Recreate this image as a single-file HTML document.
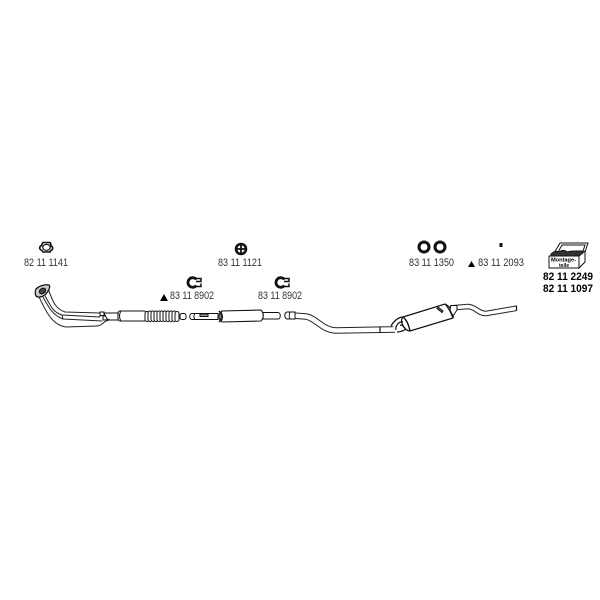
<!DOCTYPE html>
<html>
<head>
<meta charset="utf-8">
<style>
html,body{margin:0;padding:0;background:#fff}
svg{display:block}
text{font-family:"Liberation Sans",sans-serif;font-size:11px;fill:#333}
.b{font-weight:bold;font-size:11px;fill:#000}
</style>
</head>
<body>
<svg width="600" height="600" viewBox="0 0 600 600" xmlns="http://www.w3.org/2000/svg">
<rect width="600" height="600" fill="#fff"/>
<text x="24" y="266" textLength="44" lengthAdjust="spacingAndGlyphs">82 11 1141</text>
<text x="218" y="266" textLength="44" lengthAdjust="spacingAndGlyphs">83 11 1121</text>
<text x="170" y="299" textLength="44" lengthAdjust="spacingAndGlyphs">83 11 8902</text>
<text x="258" y="299" textLength="44" lengthAdjust="spacingAndGlyphs">83 11 8902</text>
<text x="409" y="266" textLength="45" lengthAdjust="spacingAndGlyphs">83 11 1350</text>
<text x="478" y="266" textLength="46" lengthAdjust="spacingAndGlyphs">83 11 2093</text>
<text class="b" x="543" y="280" textLength="50" lengthAdjust="spacingAndGlyphs">82 11 2249</text>
<text class="b" x="543" y="292" textLength="50" lengthAdjust="spacingAndGlyphs">82 11 1097</text>
<path d="M160 301l4-7 4 7z M468 267l3.500-6 3.500 6z" fill="#000"/>

<g fill="none" stroke="#111">
<path d="M43 242.500h7c1 1 1 2 .5 3 2.500 1 3 4 .5 5-1 .5-1 1.500-1 1.500h-7c-1-1-1-1.500-1-1.500-3-1-3-4-.5-5 .5-1 .5-2 1.500-3z" fill="#fff" stroke-width="1.600"/>
<ellipse cx="46.500" cy="247.300" rx="3.800" ry="3" fill="#fff" stroke-width="1.200"/>
<circle cx="241" cy="249" r="5" fill="#fff" stroke-width="2.600"/>
<path d="M235 249h12M241 243v12" stroke-width="1.800"/>
<path d="M196.500 279.500a4.800 4.800 0 1 0 0 6" stroke-width="2.800"/>
<path d="M195 278.500h6v3h-5M196 286.500h5v-3" stroke-width="1.500"/>
<path d="M284.500 279.500a4.800 4.800 0 1 0 0 6" stroke-width="2.800"/>
<path d="M283 278.500h6v3h-5M284 286.500h5v-3" stroke-width="1.500"/>
<circle cx="424" cy="247" r="5" stroke-width="3"/>
<circle cx="440" cy="247" r="5" stroke-width="3"/>
</g>
<rect x="499.500" y="243" width="3" height="4" fill="#111"/>

<!-- tool box -->
<g stroke="#111" fill="#fff" stroke-width="1">
<path d="M560 243l28 0-4 12h-31z"/>
<path d="M562 245l23 0-3 9h-25z"/>
<path d="M551 254c3-3 6-3 8-2 3-2 6-2 8 0 3-1 7-1 9-1l7 0-2 5h-30z" fill="#333"/>
<path d="M549 256h30v12h-30z"/>
<path d="M579 256l6-5v11l-6 6z"/>
</g>
<text x="551" y="261.500" style="font-size:5px;font-weight:bold;fill:#000" textLength="25" lengthAdjust="spacingAndGlyphs">Montage-</text>
<text x="559" y="267" style="font-size:5px;font-weight:bold;fill:#000" textLength="10" lengthAdjust="spacingAndGlyphs">teile</text>

<!-- front pipes -->
<g fill="none" stroke="#222" stroke-width="1">
<path d="M48 289C52 297 53 308 65 312L100 313"/>
<path d="M45 296C50 304 52 312 62 315L100 317"/>
<path d="M43 297C48 306 52 315 63 319L102 321"/>
<path d="M39 297C44 306 50 325 66 327L97 326C102 326 104 320 110 320"/>
<path d="M62 315L63 319M100 313L100 317"/>
</g>
<g stroke="#111" fill="#fff">
<path d="M36 289c3-3 9-5 13-4 2 2-1 7-4 10-3 2-7 3-9 1-1-2-1-5 0-7z" stroke-width="1.300" fill="#ccc"/>
<ellipse cx="42.500" cy="291" rx="3.500" ry="2.500" transform="rotate(-35 42.500 291)" fill="#444" stroke-width="1"/>
<path d="M100 312h4v3.500h-4zM103 316h4v4h-4z" stroke-width="1" fill="#fff"/>
<path d="M104 313h14v7h-8l-3-1z" stroke-width="1"/>
<rect x="118" y="311" width="28" height="10" rx="2" stroke-width="1.100"/>
<path d="M121 311c-2 3-2 7 0 10" fill="none" stroke-width="1"/>
<rect x="180" y="313.500" width="6" height="6" rx="2" stroke-width="1"/>
<path d="M218 313.500h-26c-3 0-3 6 0 6h26z" stroke-width="1"/>
<path d="M195 313.500c-1.500 2-1.500 4 0 6" fill="none" stroke-width="1"/>
<path d="M200 314h8v2.500h-8z" stroke-width="1" fill="#999"/>
<path d="M263 312.500h15c3 0 3 6.500 0 6.500h-15z" stroke-width="1"/>
<path d="M222 311l39-1c3 3 3 8 0 11l-39 1c-4-3-4-8 0-11z" stroke-width="1.100"/>
<path d="M219 311c3 3 3 8 0 11" fill="none" stroke-width="1.400"/>
<path d="M221 312c2 3 2 7 0 9" fill="none" stroke-width="1"/>
</g>
<g fill="#fff" stroke="#111" stroke-width="1">
<rect x="145" y="311.500" width="4" height="10" rx="2"/><rect x="148" y="311" width="4" height="10.500" rx="2"/><rect x="151" y="311" width="4" height="10.500" rx="2"/><rect x="154" y="311" width="4" height="10.500" rx="2"/><rect x="157" y="311" width="4" height="10.500" rx="2"/><rect x="160" y="311" width="4" height="10.500" rx="2"/><rect x="163" y="311" width="4" height="10.500" rx="2"/><rect x="166" y="311" width="4" height="10.500" rx="2"/><rect x="169" y="311" width="4" height="10.500" rx="2"/><rect x="172" y="311" width="4" height="10.500" rx="2"/><rect x="175" y="311.500" width="4" height="10" rx="2"/>
</g>

<!-- rear pipes -->
<g fill="none" stroke-linejoin="round">
<path d="M292 315.500L306 316.500C316 318 322 330 336 330.500L395 329.500" stroke="#222" stroke-width="6.600"/>
<path d="M292 315.500L306 316.500C316 318 322 330 336 330.500L395 329.500" stroke="#fff" stroke-width="4.600"/>
<path d="M450 308L468 306.500C476 307 478 313.500 486 313.500L516.500 308.300" stroke="#222" stroke-width="5.600"/>
<path d="M450 308L468 306.500C476 307 478 313.500 486 313.500L516.500 308.300" stroke="#fff" stroke-width="3.600"/>
</g>
<g stroke="#111" fill="#fff">
<path d="M287 312h8v7h-8c-3-1-3-6 0-7z" stroke-width="1"/>
<path d="M290 312c-1 2-1 5 0 7" fill="none" stroke-width="1"/>
<path d="M516.500 305.500v5.500" stroke-width="1.200"/>
<path d="M380 327v6" stroke-width="1.200"/>
<path d="M394 326l-5 5 9 1 6-4z" stroke-width="1" stroke="none"/>
<path d="M403 317L445 304C450 306 454 314 453 318L410 331C404 331 399 320 403 317z" stroke-width="1.200"/>
<path d="M403 317c4 3 6 9 7 14" fill="none" stroke-width="1.400"/>
<path d="M391 326c2-4 7-9 12-9M396 330c-1-4 3-9 7-8M400 325c2 0 3 1 5 3M397 332c3 0 6-1 9-3" fill="none" stroke-width="1.200"/>
<path d="M445 304c3 3 6 9 8 14" fill="none" stroke-width="1.200"/>
<path d="M438 307l5 4-1 1.500-5-4z" stroke-width="1" fill="#777"/>
<path d="M451 305.500h6v4.500l-4 6-3-6z" stroke-width="1"/>
</g>
</svg>
</body>
</html>
